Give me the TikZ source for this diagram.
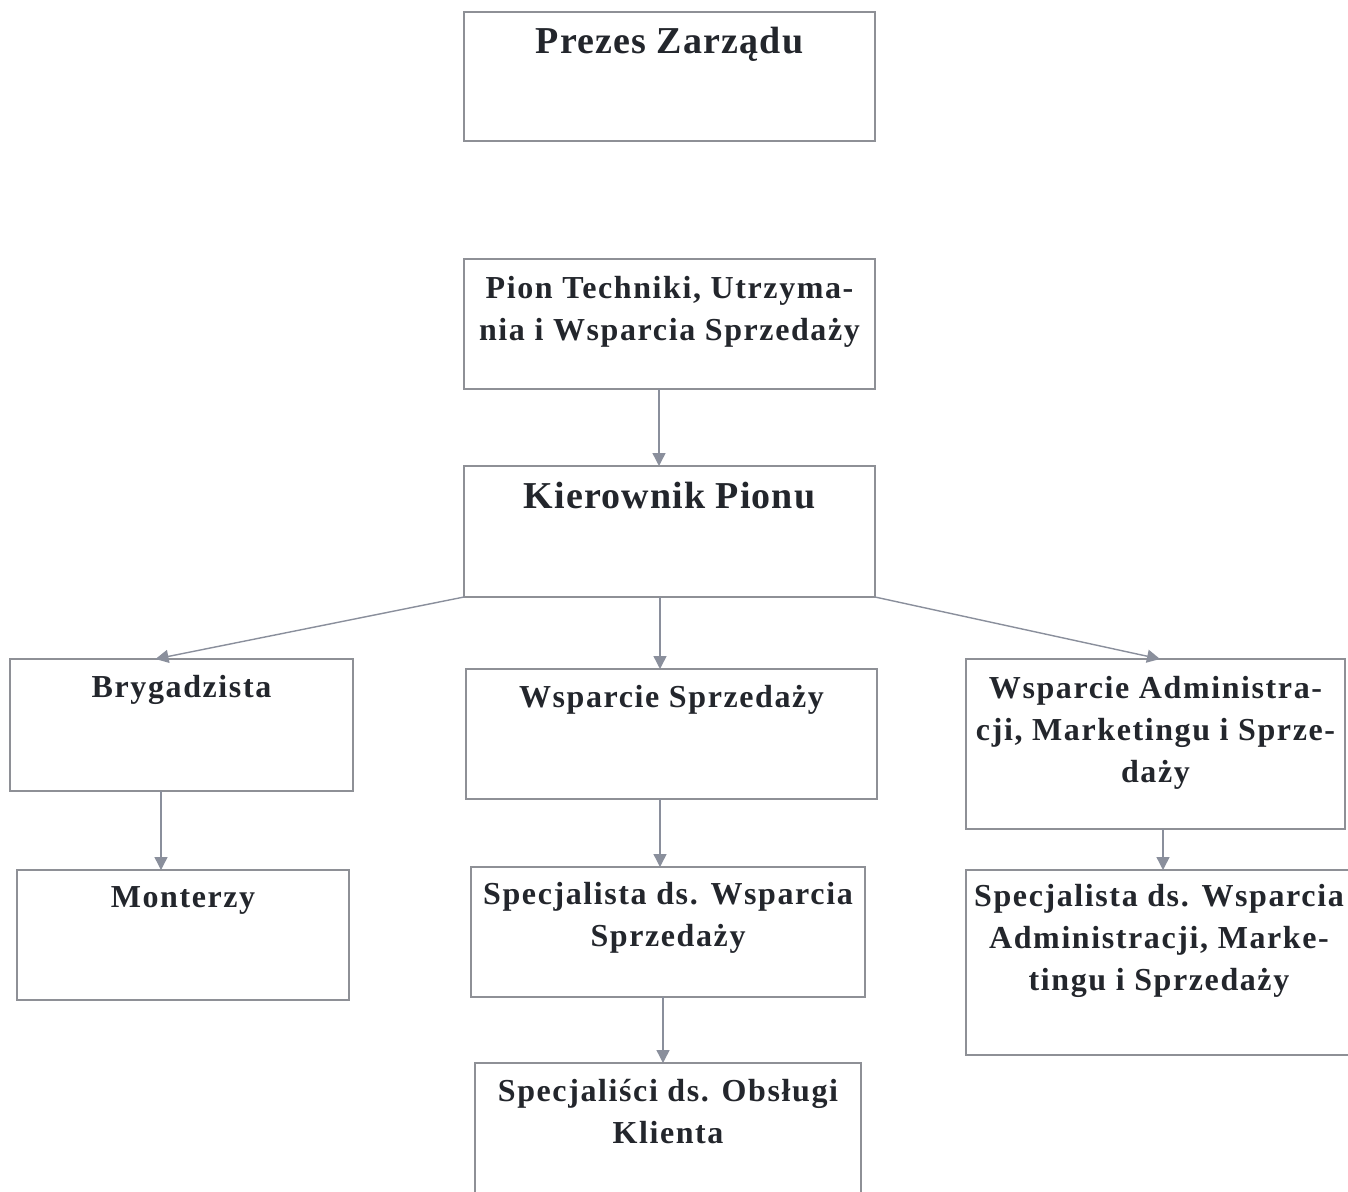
\documentclass[tikz,border=0pt]{standalone}
\usepackage{fontspec}
\setmainfont{Liberation Serif}[LetterSpace=5]
\newfontfamily\titlefont{Liberation Serif}[LetterSpace=3]
\usetikzlibrary{arrows.meta}
\definecolor{boxline}{HTML}{8E9096}
\definecolor{arrline}{HTML}{8A8F9C}
\definecolor{ink}{HTML}{23262C}
\newcommand{\boxtext}[4]{\parbox[c][#2][t]{#1}{\centering\color{ink}\bfseries #3\rule{0pt}{#4}}}
\tikzset{
  orgbox/.style={draw=boxline, line width=1.4pt, inner sep=0pt, outer sep=0pt, rectangle},
  conn/.style={draw=arrline, line width=1.4pt, -{Triangle[width=13pt,length=13pt]}},
  bigtxt/.style={font=\titlefont\fontsize{38}{44}\selectfont},
  smalltxt/.style={font=\fontsize{32}{42}\selectfont}
}
\begin{document}
\begin{tikzpicture}[x=1pt,y=-1pt]
\useasboundingbox (0,0) rectangle (1348,1191);
\clip (0,0) rectangle (1348,1191);
\fill[white] (0,0) rectangle (1348,1191);

\node[orgbox, bigtxt] (prezes) at (669.5,76.5)
  {\boxtext{411pt}{129pt}{Prezes Zarządu}{41pt}};
\node[orgbox, smalltxt] (pion) at (669.5,324)
  {\boxtext{411pt}{130pt}{\rule{0pt}{39pt}Pion Techniki, Utrzyma-\\nia i Wsparcia Sprzedaży}{0pt}};
\node[orgbox, bigtxt] (kier) at (669.5,531.5)
  {\boxtext{411pt}{131pt}{Kierownik Pionu}{42pt}};
\node[orgbox, smalltxt] (bryg) at (181.5,725)
  {\boxtext{343pt}{132pt}{Brygadzista}{38pt}};
\node[orgbox, smalltxt] (wsp) at (671.5,734)
  {\boxtext{411pt}{130pt}{Wsparcie Sprzedaży}{38pt}};
\node[orgbox, smalltxt] (adm) at (1155.5,744)
  {\boxtext{379pt}{170pt}{\rule{0pt}{39pt}Wsparcie Administra-\\cji, Marketingu i Sprze-\\daży}{0pt}};
\node[orgbox, smalltxt] (mont) at (183,935)
  {\boxtext{332pt}{130pt}{Monterzy}{37pt}};
\node[orgbox, smalltxt] (spec) at (668,932)
  {\boxtext{394pt}{130pt}{\rule{0pt}{37pt}Specjalista ds. Wsparcia\\Sprzedaży}{0pt}};
\node[orgbox, smalltxt] (specadm) at (1159,962.5)
  {\boxtext{386pt}{185pt}{\rule{0pt}{36pt}Specjalista ds. Wsparcia\\Administracji, Marke-\\tingu i Sprzedaży}{0pt}};
\node[orgbox, smalltxt] (specob) at (668,1129)
  {\boxtext{386pt}{132pt}{\rule{0pt}{38pt}Specjaliści ds. Obsługi\\Klienta}{0pt}};

\draw[conn] ([xshift=-10.5pt]pion.south) -- ([xshift=-10.5pt]kier.north);
\draw[conn] (kier.south west) -- ([xshift=-26pt]bryg.north);
\draw[conn] ([xshift=-9.5pt]kier.south) -- ([xshift=-11.5pt]wsp.north);
\draw[conn] (kier.south east) -- ([xshift=4.5pt]adm.north);
\draw[conn] ([xshift=-20.5pt]bryg.south) -- ([xshift=-22pt]mont.north);
\draw[conn] ([xshift=-11.5pt]wsp.south) -- ([xshift=-8pt]spec.north);
\draw[conn] ([xshift=-5pt]spec.south) -- ([xshift=-5pt]specob.north);
\draw[conn] ([xshift=7.5pt]adm.south) -- ([xshift=4pt]specadm.north);
\end{tikzpicture}
\end{document}
